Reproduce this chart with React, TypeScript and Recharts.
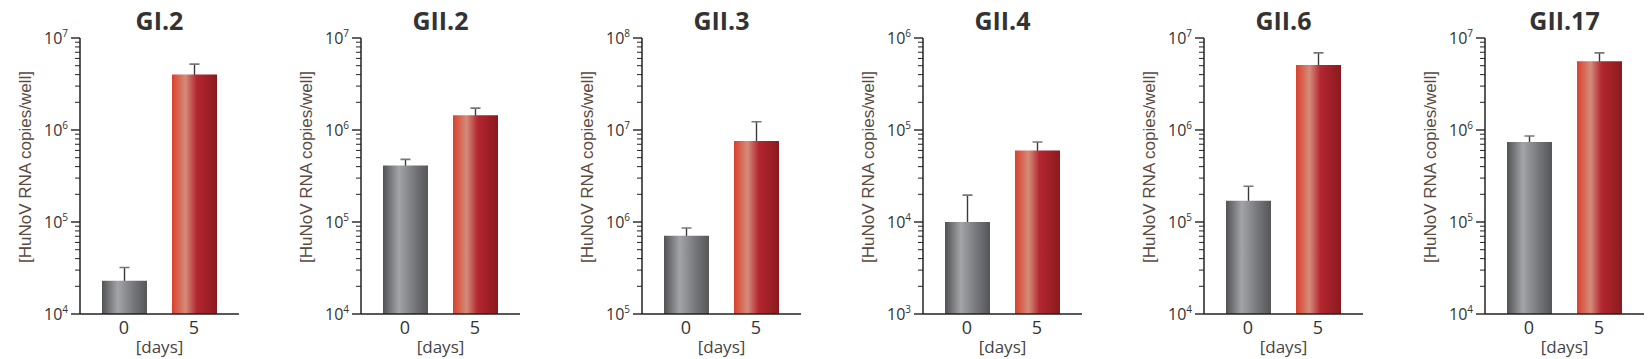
import React from "react";
import { BarChart, Bar, XAxis, YAxis, Cell } from "recharts";

const titles = ["GI.2", "GII.2", "GII.3", "GII.4", "GII.6", "GII.17"];
const days = ["0", "5"];
// bar heights (copies/well) and top of the error whisker
const day0Values = [2.3e4, 4.1e5, 7.1e5, 1.0e4, 1.7e5, 7.4e5];
const day0ErrTop = [3.2e4, 4.8e5, 8.6e5, 1.96e4, 2.45e5, 8.6e5];
const day5Values = [4.0e6, 1.45e6, 7.6e6, 6.0e4, 5.1e6, 5.6e6];
const day5ErrTop = [5.2e6, 1.73e6, 1.23e7, 7.4e4, 6.9e6, 6.9e6];
// y axis decades (10^min .. 10^max)
const decadeMin = [4, 4, 5, 3, 4, 4];
const decadeMax = [7, 7, 8, 6, 7, 7];

const FONT = "'Open Sans', 'Noto Sans', sans-serif";
const LABEL_FONT = "'Liberation Sans', Arial, sans-serif";
const PANEL_W = 281;
const H = 359;

const buildTicks = (lo: number, hi: number) => {
  const out: number[] = [];
  for (let e = lo; e < hi; e++) {
    for (let m = 1; m < 10; m++) out.push(m * Math.pow(10, e));
  }
  out.push(Math.pow(10, hi));
  return out;
};

const YTick = (props: any) => {
  const { x, y, payload } = props;
  const lg = Math.log10(payload.value);
  const e = Math.round(lg);
  const major = Math.abs(lg - e) < 1e-6;
  return (
    <g>
      <line x1={x} x2={x - (major ? 9 : 5)} y1={y} y2={y} stroke="#222" strokeWidth={major ? 1.4 : 1} />
      {major && (
        <text x={x - 12} y={y} dy="0.35em" textAnchor="end" fontFamily={FONT} fontSize={16} fill="#333">
          <tspan>10</tspan>
          <tspan fontSize={10} dy={-7}>{e}</tspan>
        </text>
      )}
    </g>
  );
};

// whisker drawn behind the real bar: stem from top down, cap on top
const Whisker = (props: any) => {
  const { x, y, width, height } = props;
  const cx = x + width / 2;
  return (
    <g>
      <line x1={cx} x2={cx} y1={y} y2={y + height} stroke="#3a3a3a" strokeWidth={1.4} />
      <line x1={cx - 5} x2={cx + 5} y1={y} y2={y} stroke="#777" strokeWidth={1.6} />
    </g>
  );
};

const Panel = ({ i }: { i: number }) => {
  const data = days.map((d, k) => ({
    day: d,
    value: k === 0 ? day0Values[i] : day5Values[i],
    errTop: k === 0 ? day0ErrTop[i] : day5ErrTop[i],
  }));
  const lo = decadeMin[i];
  const hi = decadeMax[i];
  const gId = `gray${i}`;
  const rId = `red${i}`;

  return (
    <div style={{ position: "relative", width: PANEL_W, height: H }}>
      <div
        style={{
          position: "absolute", left: 80, width: 159, top: 4, textAlign: "center",
          fontFamily: FONT, fontWeight: 700, fontSize: 25, color: "#333", lineHeight: "32px",
        }}
      >
        {titles[i]}
      </div>
      <BarChart width={PANEL_W} height={H} data={data} margin={{ top: 38, right: 42, left: 20, bottom: 0 }}>
        <defs>
          <linearGradient id={gId} x1="0" y1="0" x2="1" y2="0">
            <stop offset="0%" stopColor="#505254" />
            <stop offset="35%" stopColor="#a2a4a8" />
            <stop offset="70%" stopColor="#75777b" />
            <stop offset="100%" stopColor="#545658" />
          </linearGradient>
          <linearGradient id={rId} x1="0" y1="0" x2="1" y2="0">
            <stop offset="0%" stopColor="#d9402c" />
            <stop offset="30%" stopColor="#d48c7a" />
            <stop offset="55%" stopColor="#b3262f" />
            <stop offset="100%" stopColor="#8a1a1e" />
          </linearGradient>
        </defs>
        <XAxis
          dataKey="day"
          height={45}
          padding={{ left: 9, right: 10 }}
          tickLine={false}
          tickSize={0}
          tickMargin={7}
          axisLine={{ stroke: "#222", strokeWidth: 1.5 }}
          tick={{ fill: "#333", fontSize: 18, fontFamily: FONT }}
          label={{ value: "[days]", position: "insideBottom", offset: 6, fill: "#444", fontSize: 17, fontFamily: FONT }}
        />
        <XAxis xAxisId="err" dataKey="day" hide padding={{ left: 9, right: 10 }} />
        <YAxis
          scale="log"
          domain={[Math.pow(10, lo), Math.pow(10, hi)]}
          allowDataOverflow
          ticks={buildTicks(lo, hi)}
          interval={0}
          width={60}
          tickLine={false}
          tickSize={0}
          tickMargin={0}
          tick={<YTick />}
          axisLine={{ stroke: "#222", strokeWidth: 1.5 }}
          label={{
            content: () => (
              <text
                x={25}
                y={167}
                transform="rotate(-90, 25, 167)"
                textAnchor="middle"
                dominantBaseline="central"
                fontFamily={LABEL_FONT}
                fontSize={17}
                fill="#5a4a3f"
              >
                [HuNoV RNA copies/well]
              </text>
            ),
          }}
        />
        <Bar dataKey="errTop" xAxisId="err" barSize={45} shape={<Whisker />} isAnimationActive={false} />
        <Bar dataKey="value" barSize={45} isAnimationActive={false}>
          {data.map((_, k) => (
            <Cell key={k} fill={`url(#${k === 0 ? gId : rId})`} />
          ))}
        </Bar>
      </BarChart>
    </div>
  );
};

export default function App() {
  return (
    <div style={{ position: "absolute", left: 0, top: 0, width: 1650, height: H, display: "flex", background: "#fff" }}>
      {titles.map((_, i) => (
        <Panel key={i} i={i} />
      ))}
    </div>
  );
}
